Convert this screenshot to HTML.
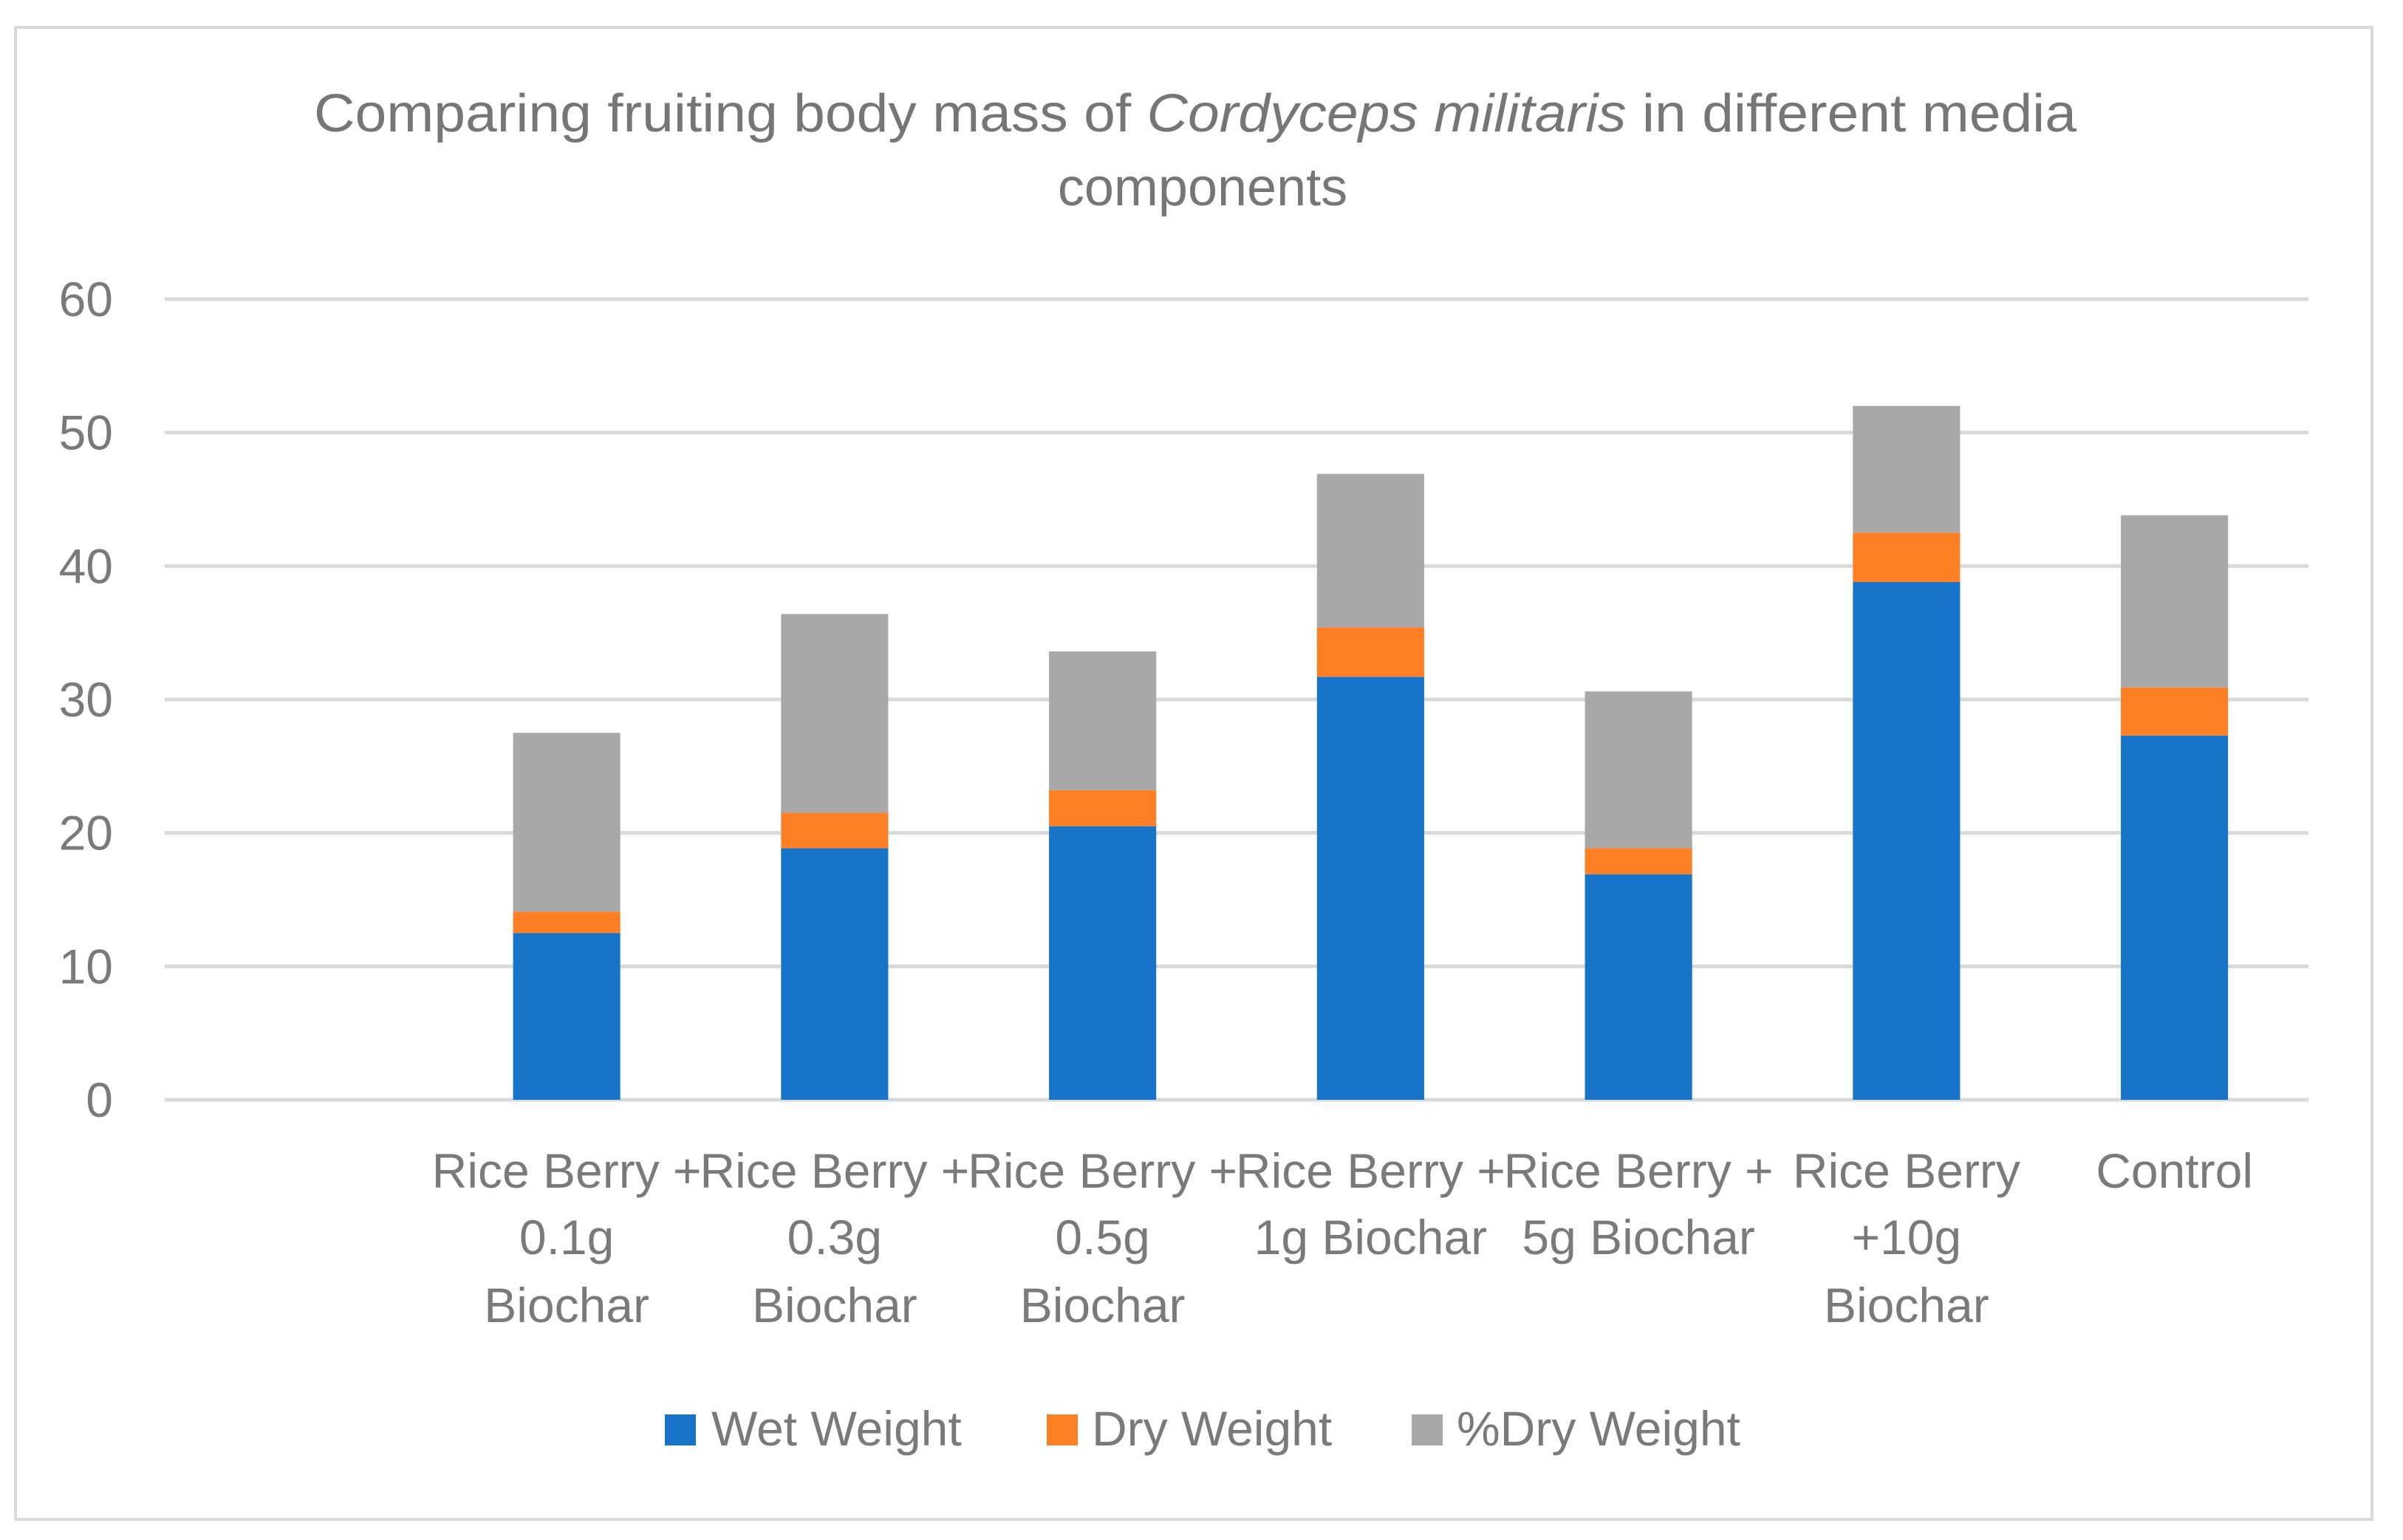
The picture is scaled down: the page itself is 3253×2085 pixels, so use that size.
<!DOCTYPE html>
<html><head><meta charset="utf-8"><style>html,body{margin:0;padding:0;background:#fff}svg{display:block}</style></head>
<body>
<svg id="chart" width="3253" height="2085" viewBox="0 0 3253 2085" xmlns="http://www.w3.org/2000/svg" font-family="'Liberation Sans', sans-serif">
<rect x="21" y="37" width="3190" height="2020" fill="#fff" stroke="#d9d9d9" stroke-width="4"/>
<text x="1618" y="178" text-anchor="middle" font-size="72" fill="#767676" textLength="2386" lengthAdjust="spacingAndGlyphs">Comparing fruiting body mass of <tspan font-style="italic">Cordyceps militaris</tspan> in different media</text>
<text x="1628" y="278" text-anchor="middle" font-size="72" fill="#767676">components</text>
<g id="grid"></g><g id="bars"></g><g id="xlabels"></g>
<g>
<rect x="900" y="1915" width="42" height="42" fill="#1874c8"/>
<text x="963" y="1957" font-size="66" fill="#7a7a7a">Wet Weight</text>
<rect x="1417" y="1915" width="42" height="42" fill="#fe7f24"/>
<text x="1478" y="1957" font-size="66" fill="#7a7a7a">Dry Weight</text>
<rect x="1911" y="1915" width="42" height="42" fill="#a8a8a8"/>
<text x="1972" y="1957" font-size="66" fill="#7a7a7a">%Dry Weight</text>
</g>
</svg>
<script>
const categories = ["", "Rice Berry + 0.1g Biochar", "Rice Berry + 0.3g Biochar", "Rice Berry + 0.5g Biochar", "Rice Berry + 1g Biochar", "Rice Berry + 5g Biochar", "Rice Berry +10g Biochar", "Control"];
const labelLines = [[], ["Rice Berry +","0.1g","Biochar"], ["Rice Berry +","0.3g","Biochar"], ["Rice Berry +","0.5g","Biochar"], ["Rice Berry +","1g Biochar"], ["Rice Berry +","5g Biochar"], ["Rice Berry","+10g","Biochar"], ["Control"]];
const wetWeight = [null, 12.5, 18.85, 20.5, 31.7, 16.9, 38.8, 27.3];
const dryWeight = [null, 1.6, 2.65, 2.7, 3.7, 1.95, 3.7, 3.6];
const pctDryWeight = [null, 13.4, 14.9, 10.4, 11.5, 11.75, 9.5, 12.9];
const yTicks = [0, 10, 20, 30, 40, 50, 60];

const NS = "http://www.w3.org/2000/svg";
const plotL = 223, plotR = 3125, y0 = 1489, y60 = 405;
const slot = (plotR - plotL) / categories.length;
const yScale = v => y0 - (v / 60) * (y0 - y60);
const xCenter = i => plotL + slot * (i + 0.5);
const barW = slot * 0.4;
function mk(tag, attrs, parent) { const e = document.createElementNS(NS, tag); for (const k in attrs) e.setAttribute(k, attrs[k]); parent.appendChild(e); return e; }

const grid = document.getElementById('grid');
yTicks.forEach(t => {
  const l = mk('line', {x1: plotL, x2: plotR, y1: yScale(t), y2: yScale(t), stroke: '#d9d9d9', 'stroke-width': 5}, grid);
  
  
  const tx = mk('text', {x: 153, y: yScale(t) + 23, 'text-anchor': 'end', 'font-size': 66, fill: '#7a7a7a'}, grid);
  tx.textContent = t;
  
  
});

const bars = document.getElementById('bars');
const series = [[wetWeight, '#1874c8', 'wet'], [dryWeight, '#fe7f24', 'dry'], [pctDryWeight, '#a8a8a8', 'pct-dry']];
categories.forEach((c, i) => {
  if (wetWeight[i] == null) return;
  let base = 0;
  series.forEach(([arr, col, nm]) => {
    const v = arr[i];
    const r = mk('rect', {x: xCenter(i) - barW / 2, y: yScale(base + v), width: barW, height: yScale(base) - yScale(base + v), fill: col}, bars);
    
    
    base += v;
  });
});

const xl = document.getElementById('xlabels');
const baselines = [1608, 1698, 1790];
labelLines.forEach((lines, i) => {
  lines.forEach((s, j) => {
    const t = mk('text', {x: xCenter(i), y: baselines[j], 'text-anchor': 'middle', 'font-size': 66, fill: '#7a7a7a'}, xl);
    t.textContent = s;
    
    
  });
});
</script>
</body></html>
